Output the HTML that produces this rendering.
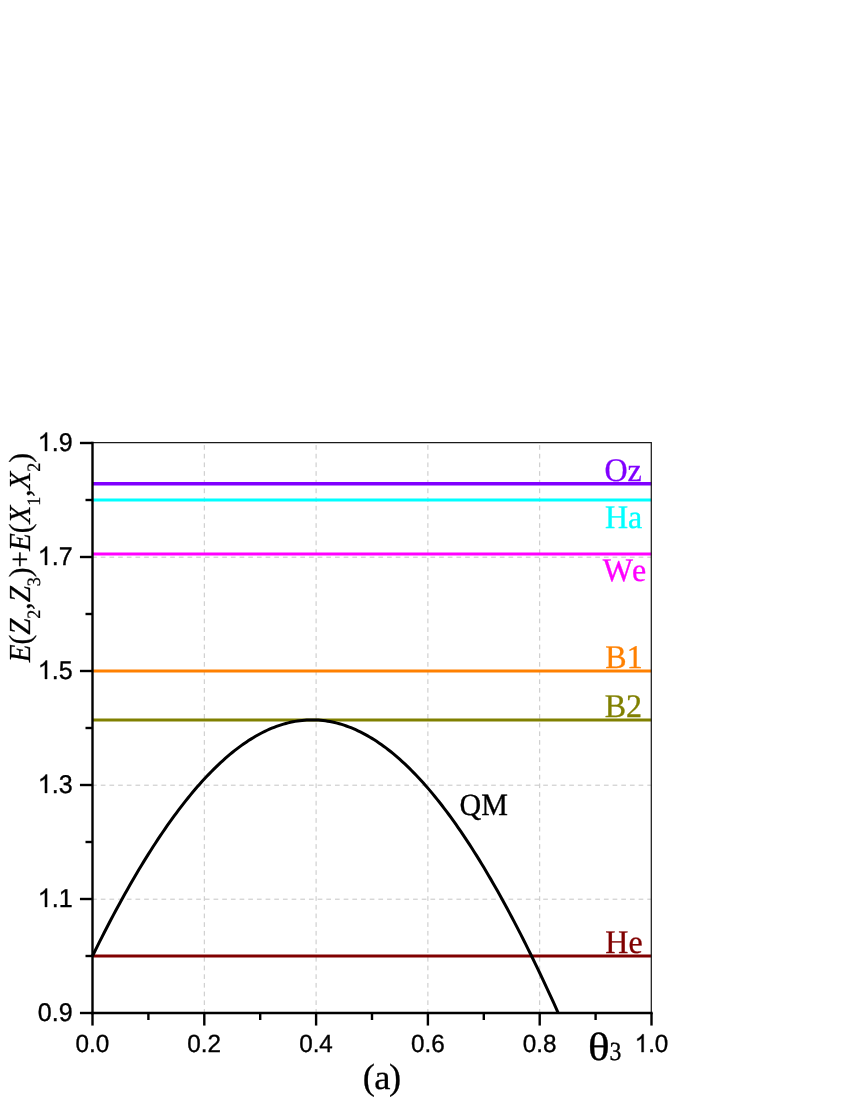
<!DOCTYPE html>
<html><head><meta charset="utf-8"><title>chart</title>
<style>
html,body{margin:0;padding:0;background:#fff;}
body{width:850px;height:1100px;overflow:hidden;}
svg{display:block;will-change:transform;}
text{font-kerning:none;text-rendering:geometricPrecision;}
.ss{font-family:"Liberation Sans",sans-serif;}
.sf{font-family:"Liberation Serif",serif;}
</style></head><body>
<svg width="850" height="1100" viewBox="0 0 850 1100">
<rect x="0" y="0" width="850" height="1100" fill="#ffffff"/>

<g stroke="#c6c6c6" stroke-width="1" stroke-dasharray="4.7 3.975" fill="none">
<line x1="204.30" y1="445.1" x2="204.30" y2="1013.00"/>
<line x1="316.10" y1="445.1" x2="316.10" y2="1013.00"/>
<line x1="427.90" y1="445.1" x2="427.90" y2="1013.00"/>
<line x1="539.70" y1="445.1" x2="539.70" y2="1013.00"/>
<line x1="92.1" y1="899.20" x2="651.50" y2="899.20"/>
<line x1="92.1" y1="785.20" x2="651.50" y2="785.20"/>
<line x1="92.1" y1="671.20" x2="651.50" y2="671.20"/>
<line x1="92.1" y1="557.20" x2="651.50" y2="557.20"/>
</g>
<line x1="92.50" y1="483.78" x2="651.50" y2="483.78" stroke="#8000ff" stroke-width="3.35"/>
<line x1="92.50" y1="500.10" x2="651.50" y2="500.10" stroke="#00ffff" stroke-width="3"/>
<line x1="92.50" y1="553.90" x2="651.50" y2="553.90" stroke="#ff00ff" stroke-width="3"/>
<line x1="92.50" y1="670.90" x2="651.50" y2="670.90" stroke="#ff8000" stroke-width="3"/>
<line x1="92.50" y1="720.00" x2="651.50" y2="720.00" stroke="#808000" stroke-width="3"/>
<line x1="92.50" y1="956.05" x2="651.50" y2="956.05" stroke="#800000" stroke-width="3"/>
<polyline fill="none" stroke="#000" stroke-width="3" stroke-linejoin="round" points="92.50,956.00 94.83,951.27 97.16,946.58 99.49,941.93 101.82,937.32 104.14,932.76 106.47,928.23 108.80,923.74 111.13,919.30 113.46,914.90 115.79,910.54 118.12,906.22 120.45,901.95 122.77,897.72 125.10,893.53 127.43,889.39 129.76,885.29 132.09,881.24 134.42,877.23 136.75,873.27 139.08,869.35 141.40,865.48 143.73,861.65 146.06,857.87 148.39,854.13 150.72,850.45 153.05,846.81 155.38,843.21 157.71,839.67 160.04,836.17 162.36,832.72 164.69,829.31 167.02,825.96 169.35,822.65 171.68,819.40 174.01,816.19 176.34,813.03 178.67,809.92 180.99,806.86 183.32,803.85 185.65,800.89 187.98,797.98 190.31,795.12 192.64,792.32 194.97,789.56 197.30,786.85 199.62,784.20 201.95,781.60 204.28,779.05 206.61,776.55 208.94,774.10 211.27,771.70 213.60,769.36 215.93,767.07 218.25,764.83 220.58,762.65 222.91,760.52 225.24,758.44 227.57,756.41 229.90,754.44 232.23,752.52 234.56,750.66 236.89,748.85 239.21,747.09 241.54,745.39 243.87,743.74 246.20,742.15 248.53,740.61 250.86,739.12 253.19,737.69 255.52,736.31 257.84,734.99 260.17,733.73 262.50,732.52 264.83,731.36 267.16,730.26 269.49,729.21 271.82,728.22 274.15,727.29 276.47,726.41 278.80,725.58 281.13,724.82 283.46,724.10 285.79,723.45 288.12,722.84 290.45,722.30 292.78,721.81 295.11,721.37 297.43,721.00 299.76,720.67 302.09,720.41 304.42,720.20 306.75,720.04 309.08,719.94 311.41,719.90 313.74,719.91 316.06,719.98 318.39,720.11 320.72,720.29 323.05,720.53 325.38,720.82 327.71,721.17 330.04,721.57 332.37,722.03 334.69,722.55 337.02,723.12 339.35,723.75 341.68,724.43 344.01,725.17 346.34,725.97 348.67,726.82 351.00,727.72 353.32,728.69 355.65,729.70 357.98,730.77 360.31,731.90 362.64,733.08 364.97,734.32 367.30,735.61 369.63,736.96 371.96,738.36 374.28,739.82 376.61,741.33 378.94,742.90 381.27,744.52 383.60,746.19 385.93,747.92 388.26,749.70 390.59,751.54 392.91,753.43 395.24,755.37 397.57,757.37 399.90,759.42 402.23,761.52 404.56,763.68 406.89,765.89 409.22,768.15 411.54,770.47 413.87,772.83 416.20,775.25 418.53,777.73 420.86,780.25 423.19,782.83 425.52,785.45 427.85,788.13 430.18,790.86 432.50,793.64 434.83,796.47 437.16,799.36 439.49,802.29 441.82,805.27 444.15,808.31 446.48,811.39 448.81,814.52 451.13,817.70 453.46,820.93 455.79,824.21 458.12,827.54 460.45,830.92 462.78,834.35 465.11,837.82 467.44,841.34 469.76,844.91 472.09,848.53 474.42,852.19 476.75,855.90 479.08,859.66 481.41,863.46 483.74,867.31 486.07,871.20 488.39,875.14 490.72,879.13 493.05,883.16 495.38,887.23 497.71,891.35 500.04,895.51 502.37,899.72 504.70,903.97 507.03,908.27 509.35,912.60 511.68,916.98 514.01,921.40 516.34,925.87 518.67,930.37 521.00,934.92 523.33,939.50 525.66,944.13 527.98,948.80 530.31,953.51 532.64,958.26 534.97,963.04 537.30,967.87 539.63,972.74 541.96,977.64 544.29,982.58 546.61,987.56 548.94,992.58 551.27,997.63 553.60,1002.72 555.93,1007.85 558.26,1013.01"/>
<polyline points="92.50,442.6 651.3,442.6 651.3,1013.00" fill="none" stroke="#1a1a1a" stroke-width="1.25"/>
<g stroke="#000" stroke-width="2.4" fill="none">
<line x1="92.50" y1="441.80" x2="92.50" y2="1014.20"/>
<line x1="91.30" y1="1013.00" x2="652.70" y2="1013.00"/>
<line x1="92.50" y1="1013.00" x2="92.50" y2="1025.55"/>
<line x1="148.40" y1="1013.00" x2="148.40" y2="1020.00"/>
<line x1="204.30" y1="1013.00" x2="204.30" y2="1025.55"/>
<line x1="260.20" y1="1013.00" x2="260.20" y2="1020.00"/>
<line x1="316.10" y1="1013.00" x2="316.10" y2="1025.55"/>
<line x1="372.00" y1="1013.00" x2="372.00" y2="1020.00"/>
<line x1="427.90" y1="1013.00" x2="427.90" y2="1025.55"/>
<line x1="483.80" y1="1013.00" x2="483.80" y2="1020.00"/>
<line x1="539.70" y1="1013.00" x2="539.70" y2="1025.55"/>
<line x1="595.60" y1="1013.00" x2="595.60" y2="1020.00"/>
<line x1="651.50" y1="1013.00" x2="651.50" y2="1025.55"/>
<line x1="92.50" y1="1013.00" x2="79.95" y2="1013.00"/>
<line x1="92.50" y1="956.00" x2="85.50" y2="956.00"/>
<line x1="92.50" y1="899.00" x2="79.95" y2="899.00"/>
<line x1="92.50" y1="842.00" x2="85.50" y2="842.00"/>
<line x1="92.50" y1="785.00" x2="79.95" y2="785.00"/>
<line x1="92.50" y1="728.00" x2="85.50" y2="728.00"/>
<line x1="92.50" y1="671.00" x2="79.95" y2="671.00"/>
<line x1="92.50" y1="614.00" x2="85.50" y2="614.00"/>
<line x1="92.50" y1="557.00" x2="79.95" y2="557.00"/>
<line x1="92.50" y1="500.00" x2="85.50" y2="500.00"/>
<line x1="92.50" y1="443.00" x2="79.95" y2="443.00"/>
</g>
<text class="ss" transform="translate(92.40,1052.10) scale(1,1.025)" font-size="24.25" fill="#000" text-anchor="middle" stroke="#000" stroke-width="0.35">0.0</text>
<text class="ss" transform="translate(204.20,1052.10) scale(1,1.025)" font-size="24.25" fill="#000" text-anchor="middle" stroke="#000" stroke-width="0.35">0.2</text>
<text class="ss" transform="translate(316.00,1052.10) scale(1,1.025)" font-size="24.25" fill="#000" text-anchor="middle" stroke="#000" stroke-width="0.35">0.4</text>
<text class="ss" transform="translate(427.80,1052.10) scale(1,1.025)" font-size="24.25" fill="#000" text-anchor="middle" stroke="#000" stroke-width="0.35">0.6</text>
<text class="ss" transform="translate(539.60,1052.10) scale(1,1.025)" font-size="24.25" fill="#000" text-anchor="middle" stroke="#000" stroke-width="0.35">0.8</text>
<path d="M763 0H583V1147Q518 1085 412.5 1023T223 930V1104Q373 1174.5 485.5 1275T647 1470H763Z" fill="#000" stroke="#000" stroke-width="29.6" transform="translate(634.65,1052.10) scale(0.011841,-0.012137)"/>
<text class="ss" transform="translate(648.13,1052.10) scale(1,1.025)" font-size="24.25" fill="#000" stroke="#000" stroke-width="0.35">.0</text>
<text class="ss" transform="translate(72.60,1020.95) scale(1,1.025)" font-size="25.05" fill="#000" text-anchor="end" stroke="#000" stroke-width="0.35">0.9</text>
<path d="M763 0H583V1147Q518 1085 412.5 1023T223 930V1104Q373 1174.5 485.5 1275T647 1470H763Z" fill="#000" stroke="#000" stroke-width="28.6" transform="translate(37.78,906.95) scale(0.012231,-0.012537)"/>
<text class="ss" transform="translate(72.60,906.95) scale(1,1.025)" font-size="25.05" fill="#000" text-anchor="end" stroke="#000" stroke-width="0.35">.1</text>
<path d="M763 0H583V1147Q518 1085 412.5 1023T223 930V1104Q373 1174.5 485.5 1275T647 1470H763Z" fill="#000" stroke="#000" stroke-width="28.6" transform="translate(37.78,792.95) scale(0.012231,-0.012537)"/>
<text class="ss" transform="translate(72.60,792.95) scale(1,1.025)" font-size="25.05" fill="#000" text-anchor="end" stroke="#000" stroke-width="0.35">.3</text>
<path d="M763 0H583V1147Q518 1085 412.5 1023T223 930V1104Q373 1174.5 485.5 1275T647 1470H763Z" fill="#000" stroke="#000" stroke-width="28.6" transform="translate(37.78,678.95) scale(0.012231,-0.012537)"/>
<text class="ss" transform="translate(72.60,678.95) scale(1,1.025)" font-size="25.05" fill="#000" text-anchor="end" stroke="#000" stroke-width="0.35">.5</text>
<path d="M763 0H583V1147Q518 1085 412.5 1023T223 930V1104Q373 1174.5 485.5 1275T647 1470H763Z" fill="#000" stroke="#000" stroke-width="28.6" transform="translate(37.78,564.95) scale(0.012231,-0.012537)"/>
<text class="ss" transform="translate(72.60,564.95) scale(1,1.025)" font-size="25.05" fill="#000" text-anchor="end" stroke="#000" stroke-width="0.35">.7</text>
<path d="M763 0H583V1147Q518 1085 412.5 1023T223 930V1104Q373 1174.5 485.5 1275T647 1470H763Z" fill="#000" stroke="#000" stroke-width="28.6" transform="translate(37.78,450.95) scale(0.012231,-0.012537)"/>
<text class="ss" transform="translate(72.60,450.95) scale(1,1.025)" font-size="25.05" fill="#000" text-anchor="end" stroke="#000" stroke-width="0.35">.9</text>
<text class="sf" transform="translate(604.50,480.60) scale(1,1.03)" font-size="32" fill="#8000ff" stroke="#8000ff" stroke-width="0.3">Oz</text>
<text class="sf" transform="translate(604.90,528.00) scale(1,1.03)" font-size="32" fill="#00ffff" stroke="#00ffff" stroke-width="0.3">Ha</text>
<text class="sf" transform="translate(602.70,581.00) scale(1,1.03)" font-size="32" fill="#ff00ff" stroke="#ff00ff" stroke-width="0.3">W<tspan dx="-0.9">e</tspan></text>
<text class="sf" transform="translate(605.30,668.00) scale(1,1.03)" font-size="32" fill="#ff8000" stroke="#ff8000" stroke-width="0.3">B1</text>
<text class="sf" transform="translate(604.70,717.00) scale(1,1.03)" font-size="32" fill="#808000" stroke="#808000" stroke-width="0.3">B2</text>
<text class="sf" transform="translate(605.35,953.00) scale(1,1.03)" font-size="32" fill="#800000" stroke="#800000" stroke-width="0.3">He</text>
<text class="sf" transform="translate(459.50,815.00) scale(1,1.03)" font-size="30" fill="#000" stroke="#000" stroke-width="0.3">QM</text>
<text class="sf" transform="translate(588.10,1060.10) scale(1.256,1.1)" font-size="36" fill="#000" stroke="#000" stroke-width="0.3">θ</text>
<text class="sf" transform="translate(609.50,1059.60) scale(0.99,1.093)" font-size="24" fill="#000" stroke="#000" stroke-width="0.3">3</text>
<text class="sf" transform="translate(362.70,1089.30) scale(1,1)" font-size="36.5" fill="#000" stroke="#000" stroke-width="0.3">(</text>
<text class="sf" transform="translate(374.30,1088.60) scale(1,0.955)" font-size="36.5" fill="#000" stroke="#000" stroke-width="0.3">a</text>
<text class="sf" transform="translate(389.05,1089.30) scale(1,1)" font-size="36.5" fill="#000" stroke="#000" stroke-width="0.3">)</text>
<text class="sf" font-size="29.1" fill="#000" stroke="#000" stroke-width="0.25" transform="translate(30.1,662.3) rotate(-90) scale(1,1.05)"><tspan font-style="italic">E</tspan>(<tspan font-style="italic">Z</tspan><tspan font-size="18" dy="9.6">2</tspan><tspan dy="-9.6">,</tspan><tspan font-style="italic">Z</tspan><tspan font-size="18" dy="9.6">3</tspan><tspan dy="-9.6">)+</tspan><tspan font-style="italic">E</tspan>(<tspan font-style="italic">X</tspan><tspan font-size="18" dy="9.6">1</tspan><tspan dy="-9.6">,</tspan><tspan font-style="italic">X</tspan><tspan font-size="18" dy="9.6">2</tspan><tspan dy="-9.6">)</tspan></text>
</svg></body></html>
